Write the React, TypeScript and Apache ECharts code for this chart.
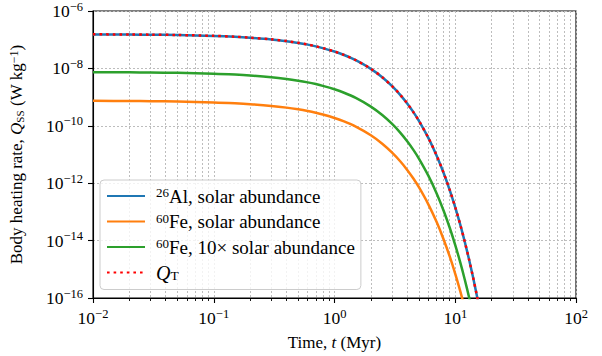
import React, { useEffect, useRef } from "react";
import * as echarts from "echarts";

// Time (Myr)
const timeMyr = [0.01, 0.02, 0.03, 0.05, 0.1, 0.15, 0.2, 0.3, 0.4, 0.5, 0.6, 0.7, 0.8, 1, 1.2, 1.5, 2, 2.5, 3, 3.5, 4, 4.5, 5, 6, 7, 8, 9, 10, 11, 12, 13, 14, 15, 16];
// Body heating rate (W/kg)
const al26Solar = [1.53e-7, 1.51e-7, 1.49e-7, 1.45e-7, 1.35e-7, 1.26e-7, 1.17e-7, 1.02e-7, 8.89e-8, 7.74e-8, 6.74e-8, 5.86e-8, 5.10e-8, 3.87e-8, 2.93e-8, 1.93e-8, 9.64e-9, 4.82e-9, 2.40e-9, 1.20e-9, 5.99e-10, 2.99e-10, 1.49e-10, 3.73e-11, 9.29e-12, 2.32e-12, 5.78e-13, 1.44e-13, 3.59e-14, 8.96e-15, 2.23e-15, 5.57e-16, 1.39e-16, 3.46e-17];
const fe60Solar = [7.40e-10, 7.30e-10, 7.19e-10, 7.00e-10, 6.53e-10, 6.09e-10, 5.68e-10, 4.94e-10, 4.30e-10, 3.74e-10, 3.26e-10, 2.84e-10, 2.47e-10, 1.87e-10, 1.42e-10, 9.34e-11, 4.67e-11, 2.33e-11, 1.16e-11, 5.81e-12, 2.90e-12, 1.45e-12, 7.23e-13, 1.80e-13, 4.50e-14, 1.12e-14, 2.80e-15, 6.97e-16, 1.74e-16, 4.34e-17, 1.08e-17, 2.69e-18, 6.7e-19, 1.7e-19];
const fe60TenSolar = [7.40e-9, 7.30e-9, 7.19e-9, 7.00e-9, 6.53e-9, 6.09e-9, 5.68e-9, 4.94e-9, 4.30e-9, 3.74e-9, 3.26e-9, 2.84e-9, 2.47e-9, 1.87e-9, 1.42e-9, 9.34e-10, 4.67e-10, 2.33e-10, 1.16e-10, 5.81e-11, 2.90e-11, 1.45e-11, 7.23e-12, 1.80e-12, 4.50e-13, 1.12e-13, 2.80e-14, 6.97e-15, 1.74e-15, 4.34e-16, 1.08e-16, 2.69e-17, 6.7e-18, 1.7e-18];
const qTotal = [1.54e-7, 1.52e-7, 1.50e-7, 1.46e-7, 1.36e-7, 1.27e-7, 1.18e-7, 1.03e-7, 8.93e-8, 7.78e-8, 6.77e-8, 5.89e-8, 5.12e-8, 3.89e-8, 2.94e-8, 1.94e-8, 9.69e-9, 4.84e-9, 2.41e-9, 1.21e-9, 6.02e-10, 3.00e-10, 1.50e-10, 3.75e-11, 9.33e-12, 2.33e-12, 5.81e-13, 1.45e-13, 3.61e-14, 9.00e-15, 2.24e-15, 5.60e-16, 1.40e-16, 3.48e-17];

const xMajorTicks = [0.01, 0.1, 1, 10, 100];
const xMinorTicks = [0.02, 0.03, 0.04, 0.05, 0.06, 0.07, 0.08, 0.09, 0.2, 0.3, 0.4, 0.5, 0.6, 0.7, 0.8, 0.9, 2, 3, 4, 5, 6, 7, 8, 9, 20, 30, 40, 50, 60, 70, 80, 90];
const yMajorTicks = [1e-16, 1e-14, 1e-12, 1e-10, 1e-8, 1e-6];

const seriesKeys = ["al", "fe", "fe10", "qt"];
const legendLabels: Record<string, string> = {
  al: "{sup|26}{lab|Al, solar abundance}",
  fe: "{sup|60}{lab|Fe, solar abundance}",
  fe10: "{sup|60}{lab|Fe, 10× solar abundance}",
  qt: "{it|Q}{sub|T}",
};

const FONT = "Liberation Serif, Times New Roman, serif";
const GRID_COLOR = "#bdbdbd";

function powLabel(v: number) {
  const e = Math.round(Math.log10(v));
  const s = e < 0 ? "−" + -e : String(e);
  return "{b|10}{s|" + s + "}";
}

const tickRich = {
  b: { fontFamily: FONT, fontSize: 17.5, color: "#000", lineHeight: 22 },
  s: { fontFamily: FONT, fontSize: 12.5, color: "#000", lineHeight: 12, verticalAlign: "top" },
};

export default function App() {
  const ref = useRef<HTMLDivElement>(null);
  useEffect(() => {
    if (!ref.current) return;
    const chart = echarts.init(ref.current, undefined, { renderer: "svg" });
    const mk = (arr: number[]) => timeMyr.map((t, i) => [t, arr[i]]);
    const option: any = {
      animation: false,
      backgroundColor: "#fff",
      textStyle: { fontFamily: FONT, color: "#000" },
      grid: { left: 92, right: 26, top: 10, bottom: 58, show: true, borderColor: "#000", borderWidth: 1.1, backgroundColor: "transparent" },
      legend: {
        left: 100,
        top: 180,
        orient: "vertical",
        data: seriesKeys,
        itemWidth: 38,
        itemHeight: 12,
        itemGap: 6,
        padding: [6, 6, 7, 6],
        backgroundColor: "rgba(255,255,255,0.8)",
        borderColor: "#cccccc",
        borderWidth: 1,
        borderRadius: 4,
        itemStyle: { opacity: 0, borderWidth: 0 },
        formatter: (name: string) => legendLabels[name],
        textStyle: {
          fontFamily: FONT,
          fontSize: 19,
          color: "#000",
          padding: [0, 0, 0, 6],
          rich: {
            lab: { fontFamily: FONT, fontSize: 19, fontWeight: "normal", color: "#000", lineHeight: 20 },
            sup: { fontFamily: FONT, fontSize: 13, color: "#000", lineHeight: 12, verticalAlign: "top" },
            it: { fontFamily: FONT, fontSize: 20, fontStyle: "italic", color: "#000", lineHeight: 20 },
            sub: { fontFamily: FONT, fontSize: 13.5, color: "#000", lineHeight: 12, verticalAlign: "bottom" },
          },
        },
      },
      xAxis: [
        {
          type: "log",
          min: 0.01,
          max: 100,
          position: "bottom",
          name: "Time, {it|t} (Myr)",
          nameLocation: "middle",
          nameGap: 36,
          nameTextStyle: {
            fontFamily: FONT,
            fontSize: 17,
            color: "#000",
            rich: {
              it: { fontFamily: FONT, fontSize: 17, fontStyle: "italic", color: "#000" },
            },
          },
          axisLine: { show: true, onZero: false, lineStyle: { color: "#000", width: 1.1 } },
          axisTick: { show: true, inside: false, length: 5, customValues: xMajorTicks, lineStyle: { color: "#000", width: 1.1 } },
          axisLabel: { show: true, margin: 9, customValues: xMajorTicks, formatter: powLabel, rich: tickRich },
          splitLine: { show: true, lineStyle: { color: GRID_COLOR, width: 1, type: [2, 2] } },
          minorTick: { show: false },
        },
        {
          type: "log",
          min: 0.01,
          max: 100,
          position: "bottom",
          axisLine: { show: false },
          axisTick: { show: true, inside: false, length: 3, customValues: xMinorTicks, lineStyle: { color: "#000", width: 0.9 } },
          axisLabel: { show: false },
          splitLine: { show: true, lineStyle: { color: GRID_COLOR, width: 1, type: [2, 2] } },
        },
      ],
      yAxis: {
        type: "log",
        min: 1e-16,
        max: 1e-6,
        name: "Body heating rate, {it|Q}{sub|SS} (W kg{sup|−1})",
        nameLocation: "middle",
        nameRotate: 90,
        nameGap: 68,
        nameTextStyle: {
          fontFamily: FONT,
          fontSize: 17,
          color: "#000",
          rich: {
            it: { fontFamily: FONT, fontSize: 17, fontStyle: "italic", color: "#000" },
            sub: { fontFamily: FONT, fontSize: 11, color: "#000", verticalAlign: "bottom", lineHeight: 12 },
            sup: { fontFamily: FONT, fontSize: 12, color: "#000", verticalAlign: "top", lineHeight: 12 },
          },
        },
        axisLine: { show: true, onZero: false, lineStyle: { color: "#000", width: 1.1 } },
        axisTick: { show: true, inside: false, length: 5, customValues: yMajorTicks, lineStyle: { color: "#000", width: 1.1 } },
        axisLabel: { show: true, margin: 10, customValues: yMajorTicks, formatter: powLabel, rich: tickRich },
        splitLine: { show: true, lineStyle: { color: GRID_COLOR, width: 1, type: [2, 2] } },
      },
      series: [
        { name: "al", type: "line", xAxisIndex: 0, data: mk(al26Solar), showSymbol: false, symbol: "none", smooth: 0.3, lineStyle: { color: "#1f77b4", width: 2.5 }, itemStyle: { color: "#1f77b4" }, z: 2 },
        { name: "fe", type: "line", xAxisIndex: 0, data: mk(fe60Solar), showSymbol: false, symbol: "none", smooth: 0.3, lineStyle: { color: "#ff7f0e", width: 2.5 }, itemStyle: { color: "#ff7f0e" }, z: 2 },
        { name: "fe10", type: "line", xAxisIndex: 0, data: mk(fe60TenSolar), showSymbol: false, symbol: "none", smooth: 0.3, lineStyle: { color: "#2ca02c", width: 2.5 }, itemStyle: { color: "#2ca02c" }, z: 2 },
        { name: "qt", type: "line", xAxisIndex: 0, data: mk(qTotal), showSymbol: false, symbol: "none", smooth: 0.3, lineStyle: { color: "#ff0000", width: 2.5, type: [2.6, 4] }, itemStyle: { color: "#ff0000" }, z: 3 },
      ],
    };
    chart.setOption(option);
    return () => chart.dispose();
  }, []);
  return <div ref={ref} style={{ position: "fixed", left: 0, top: 0, width: 602, height: 356 }} />;
}
